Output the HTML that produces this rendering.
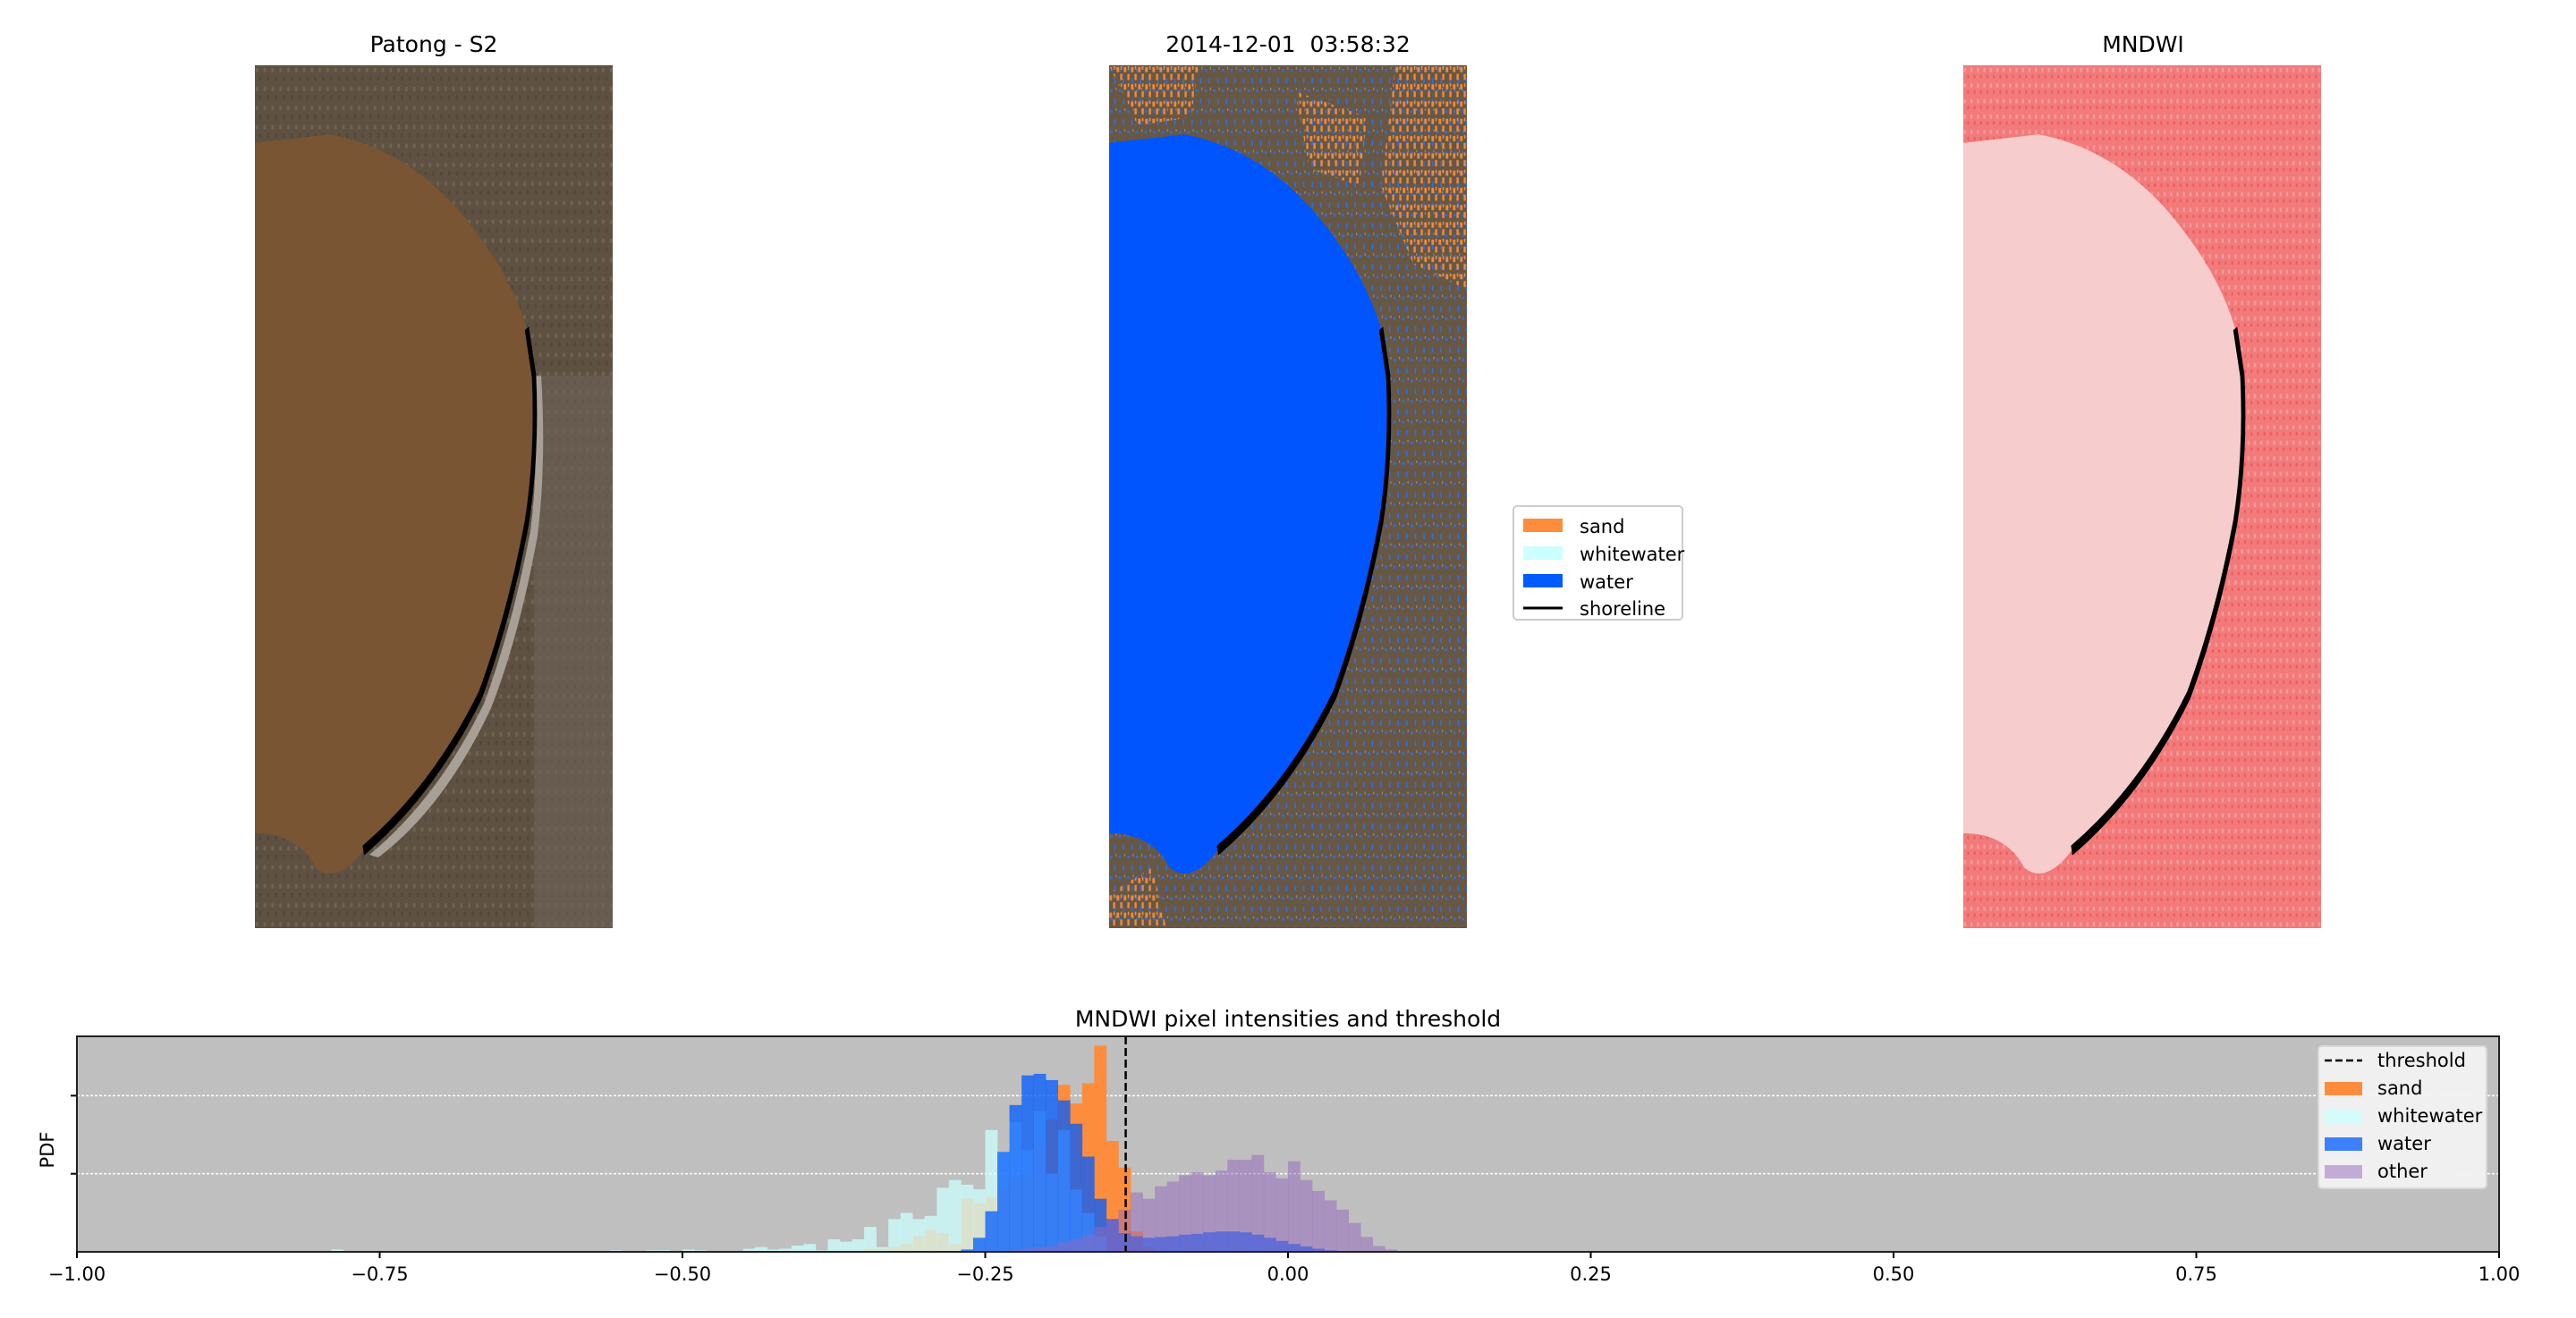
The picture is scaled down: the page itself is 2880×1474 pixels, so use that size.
<!DOCTYPE html>
<html><head><meta charset="utf-8"><style>
body{margin:0;background:#fff;width:2880px;height:1474px;overflow:hidden;font-family:"DejaVu Sans","Liberation Sans",sans-serif}
.t{position:absolute;font-size:25px;color:#000;white-space:nowrap;transform:translateX(-50%)}
svg{position:absolute;left:0;top:0}
</style></head><body>
<div class="t" style="left:485px;top:35px">Patong - S2</div>
<div class="t" style="left:1440px;top:35px">2014-12-01&nbsp;&nbsp;03:58:32</div>
<div class="t" style="left:2396px;top:35px">MNDWI</div>
<div class="t" style="left:1440px;top:1125px">MNDWI pixel intensities and threshold</div>

<svg width="2880" height="1474">
<defs>
<pattern id="spk" width="24" height="24" patternUnits="userSpaceOnUse"><rect x="3" y="4" width="6" height="3" fill="#2f6fe8"/><rect x="14" y="15" width="4" height="6" fill="#2f6fe8"/><rect x="18" y="2" width="3" height="3" fill="#8a8a8a"/></pattern>
<pattern id="org" width="20" height="20" patternUnits="userSpaceOnUse"><rect x="1" y="2" width="7" height="6" fill="#f08a3c"/><rect x="11" y="10" width="6" height="7" fill="#f08a3c"/><rect x="12" y="1" width="4" height="4" fill="#f08a3c"/></pattern>
<pattern id="rtx" width="18" height="18" patternUnits="userSpaceOnUse"><rect x="2" y="3" width="6" height="5" fill="#f8b0b0"/><rect x="11" y="11" width="5" height="4" fill="#e84848"/></pattern>
<pattern id="ltx" width="22" height="22" patternUnits="userSpaceOnUse"><rect x="2" y="3" width="7" height="5" fill="#7a7060"/><rect x="12" y="13" width="6" height="5" fill="#4a4035"/></pattern>
</defs>
<!-- image 1 -->
<g transform="translate(285,73) scale(0.4,0.965)">
<rect width="1000" height="1000" fill="#5e5142"/>
<rect width="1000" height="1000" fill="url(#ltx)" opacity="0.6"/>
<rect x="780" y="360" width="220" height="640" fill="#6e6458" opacity="0.6"/>
<path d="M0,90 L210,80 Q460,100 630,200 Q720,250 760,305 L780,360 Q790,450 760,530 Q710,640 630,730 Q500,840 303,910 Q230,950 170,930 Q120,890 0,890 Z" fill="#7a5533"/>
<path d="M780,360 Q795,460 770,540 Q720,650 640,740 Q510,850 320,915 L345,918 Q530,860 660,745 Q740,660 790,545 Q815,460 800,360 Z" fill="#a8a096"/>
<path d="M760,305 L780,360 Q790,450 760,530 Q710,640 630,730 Q500,840 303,910" fill="none" stroke="#000" stroke-width="12"/>
</g>
<!-- image 2 -->
<g transform="translate(1240,73) scale(0.4,0.965)">
<rect width="1000" height="1000" fill="#675745"/>
<rect width="1000" height="1000" fill="url(#spk)"/>
<path d="M0,0 L250,0 L230,60 L80,70 Z M520,30 L720,60 L700,140 L560,120 Z M800,0 L1000,0 L1000,260 L850,230 L760,140 Z M0,960 L120,930 L160,1000 L0,1000 Z" fill="url(#org)"/>
<path d="M0,90 L210,80 Q460,100 630,200 Q720,250 760,305 L780,360 Q790,450 760,530 Q710,640 630,730 Q500,840 303,910 Q230,950 170,930 Q120,890 0,890 Z" fill="#0055ff"/>
<path d="M760,305 L780,360 Q790,450 760,530 Q710,640 630,730 Q500,840 303,910" fill="none" stroke="#000" stroke-width="12"/>
</g>
<!-- image 3 -->
<g transform="translate(2195,73) scale(0.4,0.965)">
<rect width="1000" height="1000" fill="#f27a7a"/>
<rect width="1000" height="1000" fill="url(#rtx)" opacity="0.6"/>
<path d="M0,90 L210,80 Q460,100 630,200 Q720,250 760,305 L780,360 Q790,450 760,530 Q710,640 630,730 Q500,840 303,910 Q230,950 170,930 Q120,890 0,890 Z" fill="#f6cccc"/>
<path d="M760,305 L780,360 Q790,450 760,530 Q710,640 630,730 Q500,840 303,910" fill="none" stroke="#000" stroke-width="12"/>
</g>
<!-- legend 1 -->
<g font-size="21" font-family="DejaVu Sans, Liberation Sans, sans-serif">
<rect x="1692" y="566" width="189" height="127" rx="4" fill="#fff" stroke="#ccc" stroke-width="2"/>
<rect x="1703" y="580" width="44" height="15" fill="#fd8d3c"/><text x="1766" y="596">sand</text>
<rect x="1703" y="611" width="44" height="15" fill="#ccffff"/><text x="1766" y="627">whitewater</text>
<rect x="1703" y="642" width="44" height="15" fill="#005bff"/><text x="1766" y="658">water</text>
<line x1="1703" y1="680" x2="1747" y2="680" stroke="#000" stroke-width="3"/><text x="1766" y="688">shoreline</text>
</g>
<g id="hist"></g>
</svg>
<script>
const binStart=-0.80, binW=0.01;
const sandVals=[0,0,0,0,0,0,0,0,0,0, 0,0,0,0,0,0,0,0,0,0, 0,0,0,0,0,0,0,0,0,0, 0,0,0,0,0,0,0,0,0,0, 0,0,0,0,0,0.2,0.2,0.3,0.5,1.0, 1.4,1.2,0.5,3.4,3.1,3.5,4.0,4.5,5.0,7.0, 8.5,10.7,9.5,10.8,13.2,7.1,5.4,1.3,0.3,0, 0,0,0,0,0,0,0,0,0,0, 0,0,0,0,0,0,0,0,0,0, 0,0,0];
const wwVals=[0,0.15,0,0,0,0,0,0,0,0, 0,0,0,0,0,0,0,0,0,0, 0,0,0,0,0.1,0,0,0.1,0.1,0, 0.15,0.1,0,0,0,0.2,0.3,0.15,0.2,0.4, 0.5,0.1,0.8,0.65,0.8,1.6,0.3,2.1,2.5,2.1, 2.3,4.1,4.6,4.3,4.0,7.8,6.4,8.3,6.5,9.0, 5.0,7.8,4.0,2.5,1.0,0,0,0,0,0, 0,0,0,0,0,0,0,0,0,0, 0,0,0,0,0,0,0,0,0,0, 0,0,0];
const waterVals=[0,0,0,0,0,0,0,0,0,0, 0,0,0,0,0,0,0,0,0,0, 0,0,0,0,0,0,0,0,0,0, 0,0,0,0,0,0,0,0,0,0, 0,0,0,0,0,0,0,0,0,0, 0,0,0,0.15,0.9,2.6,6.4,9.4,11.3,11.4, 11.0,9.7,8.2,6.1,3.4,2.1,1.2,1.0,0.9,0.95, 1.0,1.1,1.15,1.25,1.3,1.3,1.25,1.1,0.9,0.7, 0.5,0.35,0.2,0.1,0.05,0,0,0,0,0, 0,0,0];
const otherVals=[0,0,0,0,0,0,0,0,0,0, 0,0,0,0,0,0,0,0,0,0, 0,0,0,0,0,0,0,0,0,0, 0,0,0,0,0,0,0,0,0,0, 0,0,0,0,0,0,0,0,0,0, 0,0,0,0,0,0,0,0.15,0.2,0.3, 0.35,0.6,0.8,1.1,1.6,2.1,2.7,3.8,3.4,4.2, 4.5,4.9,5.1,4.9,5.2,5.9,5.9,6.2,5.1,4.7, 5.8,4.6,3.9,3.3,2.7,1.85,0.95,0.37,0.15,0.04, 0,0,0];
const threshold=-0.134;
const xTicks=[-1.00,-0.75,-0.50,-0.25,0.00,0.25,0.50,0.75,1.00];
const xTickLabels=["\u22121.00","\u22120.75","\u22120.50","\u22120.25","0.00","0.25","0.50","0.75","1.00"];
const yGrid=[5,10];
const yMax=13.8;
const legendLabels=["threshold","sand","whitewater","water","other"];

const L=86,R=2794,T=1159,B=1400;
const X=v=>L+(v+1)/2*(R-L);
const Y=v=>B-v/yMax*(B-T);
const NS="http://www.w3.org/2000/svg";
const g=document.getElementById('hist');
function mk(tag,attrs,parent){const e=document.createElementNS(NS,tag);for(const k in attrs)e.setAttribute(k,attrs[k]);(parent||g).appendChild(e);return e;}
const bg=mk('rect',{x:L,y:T,width:R-L,height:B-T,fill:'#bfbfbf'});


yGrid.forEach(v=>{const l=mk('line',{x1:L,x2:R,y1:Y(v),y2:Y(v),stroke:'#fff','stroke-width':1.5,'stroke-dasharray':'3,2'});


const tk=mk('line',{x1:L-7,x2:L,y1:Y(v),y2:Y(v),stroke:'#000','stroke-width':2});

});
function series(vals,color,op,name){vals.forEach((v,i)=>{if(v<=0)return;const x0=X(binStart+i*binW),x1=X(binStart+(i+1)*binW);
const r=mk('rect',{x:x0,y:Y(v),width:x1-x0+0.3,height:B-Y(v),fill:color,'fill-opacity':op});

});}
series(sandVals,'#fd8d3c',1,'sand');
series(wwVals,'#ccffff',0.75,'whitewater');
series(waterVals,'#005bff',0.75,'water');
series(otherVals,'#9467bd',0.5,'other');
const th=mk('line',{x1:X(threshold),x2:X(threshold),y1:T,y2:B,stroke:'#000','stroke-width':2.5,'stroke-dasharray':'9,4'});


const fr=mk('rect',{x:L,y:T,width:R-L,height:B-T,fill:'none',stroke:'#222','stroke-width':2});


xTicks.forEach((v,i)=>{const tk=mk('line',{x1:X(v),x2:X(v),y1:B,y2:B+7,stroke:'#000','stroke-width':2});


const t=mk('text',{x:X(v),y:B+32,'text-anchor':'middle','font-size':21,'font-family':'DejaVu Sans, Liberation Sans, sans-serif'});t.textContent=xTickLabels[i];

});
const yl=mk('text',{x:0,y:0,transform:'translate(60,1286) rotate(-90)','text-anchor':'middle','font-size':21,'font-family':'DejaVu Sans, Liberation Sans, sans-serif'});yl.textContent='PDF';


const lg=mk('g',{'font-size':21,'font-family':'DejaVu Sans, Liberation Sans, sans-serif'});


mk('rect',{x:2592,y:1170,width:188,height:159,rx:4,fill:'#f2f2f2','fill-opacity':0.95,stroke:'#d8d8d8','stroke-width':2},lg);
const legCol=[null,'#fd8d3c','rgba(204,255,255,0.75)','rgba(0,91,255,0.75)','rgba(148,103,189,0.5)'];
legendLabels.forEach((lab,i)=>{const yy=1186+i*31;
if(i===0){mk('line',{x1:2599,x2:2641,y1:yy,y2:yy,stroke:'#000','stroke-width':2.5,'stroke-dasharray':'8,4'},lg);}
else{mk('rect',{x:2599,y:yy-7,width:42,height:15,fill:legCol[i]},lg);}
const t=mk('text',{x:2658,y:yy+7},lg);t.textContent=lab;

});
</script>
</body></html>
